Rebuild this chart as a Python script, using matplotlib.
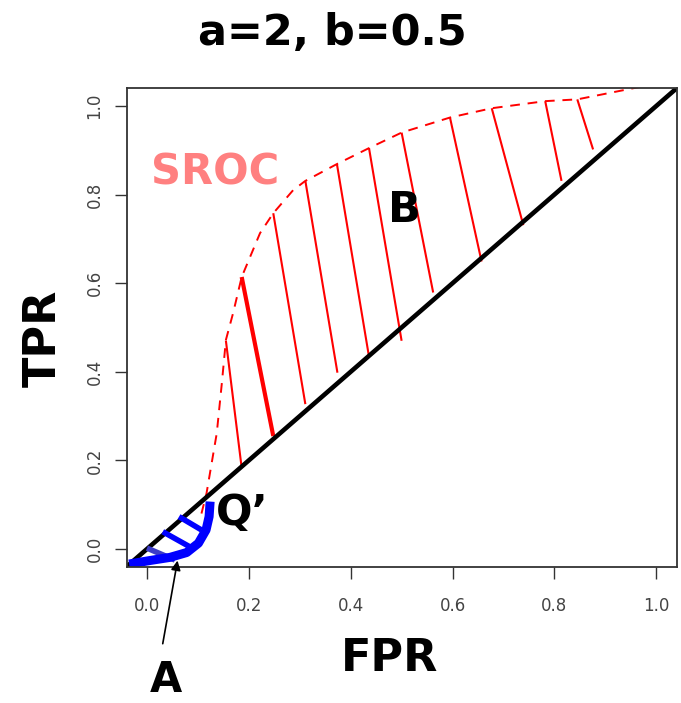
import numpy as np
import matplotlib
matplotlib.use('Agg')
import matplotlib.pyplot as plt

# dashed SROC curve (FPR, TPR)
sroc_fpr = [0.107, 0.117, 0.137, 0.147, 0.155, 0.169, 0.186, 0.222, 0.248, 0.287,
            0.311, 0.373, 0.436, 0.500, 0.595, 0.677, 0.782, 0.845, 0.954, 1.003]
sroc_tpr = [0.080, 0.126, 0.261, 0.374, 0.472, 0.532, 0.614, 0.713, 0.758, 0.810,
            0.831, 0.869, 0.905, 0.940, 0.974, 0.995, 1.011, 1.015, 1.040, 1.050]

# red hatch lines: from the curve down to the diagonal
hatch_top_x = [0.155, 0.186, 0.248, 0.311, 0.373, 0.436, 0.500, 0.595, 0.677, 0.782, 0.845]
hatch_top_y = [0.470, 0.614, 0.758, 0.831, 0.869, 0.905, 0.940, 0.974, 0.995, 1.011, 1.015]
hatch_bot_x = [0.186, 0.248, 0.311, 0.374, 0.436, 0.500, 0.562, 0.657, 0.739, 0.814, 0.876]
hatch_bot_y = [0.183, 0.255, 0.327, 0.398, 0.434, 0.470, 0.579, 0.649, 0.731, 0.831, 0.902]
hatch_lw = [1.5, 3.0, 1.5, 1.5, 1.5, 1.5, 1.5, 1.5, 1.5, 1.5, 1.5]

# blue curve (Q') below the diagonal
blue_x = [-0.035, 0.006, 0.045, 0.078, 0.101, 0.116, 0.122, 0.124]
blue_y = [-0.034, -0.026, -0.019, -0.008, 0.013, 0.043, 0.073, 0.107]

# blue hatch lines
bh_x0 = [0.063, 0.031, 0.000]
bh_y0 = [0.073, 0.039, 0.002]
bh_x1 = [0.107, 0.084, 0.055]
bh_y1 = [0.043, 0.005, -0.025]
bh_col = ['#0000ff', '#0000ff', '#3c3cc8']

ticks = [0.0, 0.2, 0.4, 0.6, 0.8, 1.0]
tick_labels = ['0.0', '0.2', '0.4', '0.6', '0.8', '1.0']

W, H = 681, 703
fig = plt.figure(figsize=(W/100, H/100), dpi=100)
ax = fig.add_axes([126.6/W, 1-566.7/H, 550/W, 478.4/H])
ax.set_xlim(-0.04, 1.04)
ax.set_ylim(-0.04, 1.04)

for i in range(len(hatch_top_x)):
    ax.plot([hatch_top_x[i], hatch_bot_x[i]], [hatch_top_y[i], hatch_bot_y[i]],
            color='red', lw=hatch_lw[i], solid_capstyle='butt')
ax.plot(sroc_fpr, sroc_tpr, color='red', lw=1.4, linestyle=(0, (5, 4)))

ax.axline((0, 0), (1, 1), color='black', lw=3.3)

for i in range(len(bh_x0)):
    ax.plot([bh_x0[i], bh_x1[i]], [bh_y0[i], bh_y1[i]], color=bh_col[i], lw=4,
            solid_capstyle='butt')
ax.plot(blue_x, blue_y, color='#0000ff', lw=6.5, solid_capstyle='butt',
        solid_joinstyle='round')

ax.annotate('', xy=(0.061, -0.02), xytext=(0.03, -0.22),
            arrowprops=dict(arrowstyle='-|>', color='black', lw=1.2, mutation_scale=14),
            annotation_clip=False)

ax.text(0.133, 0.822, 'SROC', color='#ff8080', fontsize=30, fontweight='bold',
        ha='center', va='baseline')
ax.text(0.506, 0.738, 'B', color='black', fontsize=31, fontweight='bold',
        ha='center', va='baseline')
ax.text(0.188, 0.054, 'Q\u2019', color='black', fontsize=31, fontweight='bold',
        ha='center', va='baseline')

ax.set_xticks(ticks)
ax.set_xticklabels(tick_labels)
ax.set_yticks(ticks)
ax.set_yticklabels(tick_labels, rotation=90, va='center')
ax.tick_params(axis='both', direction='out', length=8.6, width=1.0, color='#333333',
               labelcolor='#444444', labelsize=12)
ax.tick_params(axis='x', pad=13)
ax.tick_params(axis='y', pad=8)
for s in ax.spines.values():
    s.set_color('#333333')
    s.set_linewidth(1.3)

fig.text(332/W, 1-45/H, 'a=2, b=0.5', fontsize=31, fontweight='bold',
         ha='center', va='baseline')
fig.text(390/W, 1-671/H, 'FPR', fontsize=32, fontweight='bold',
         ha='center', va='baseline')
fig.text(43.5/W, 1-338/H, 'TPR', fontsize=32, fontweight='bold', rotation=90,
         ha='center', va='center')
fig.text(165.5/W, 1-692/H, 'A', fontsize=30, fontweight='bold', ha='center', va='baseline')

fig.savefig('out.png', dpi=100)
